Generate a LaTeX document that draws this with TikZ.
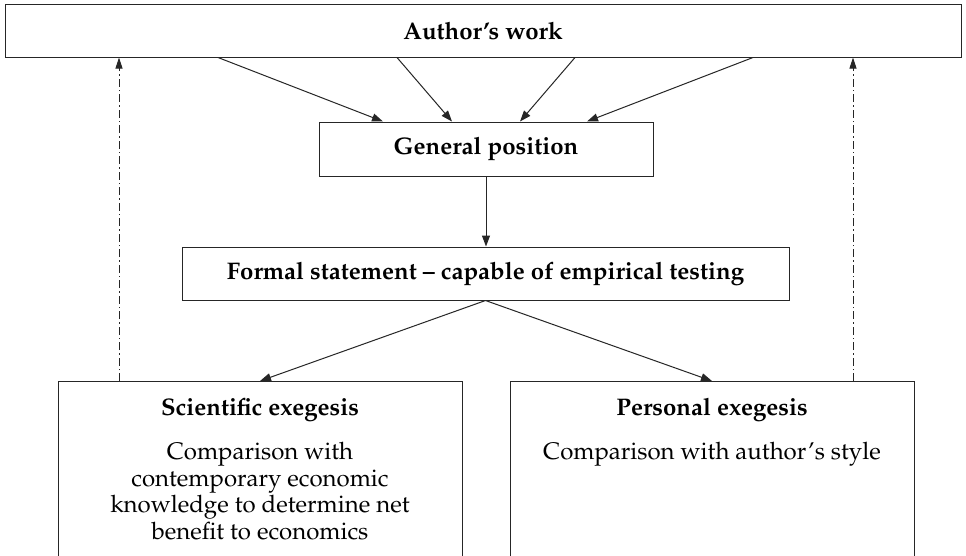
\documentclass[tikz,border=0pt]{standalone}
\usepackage[T1]{fontenc}
\renewcommand{\rmdefault}{ppl}
\usetikzlibrary{arrows.meta}
\begin{document}
\begin{tikzpicture}[x=1pt,y=-1pt,
  box/.style={draw=black!85, line width=1pt, inner sep=0pt, fill=none},
  arr/.style={draw=black!85, line width=1pt, -{Triangle[length=11pt,width=8pt]}},
  dd/.style={draw=black!85, line width=0.9pt, dash pattern=on 8pt off 3pt on 1.5pt off 3pt, -{Triangle[length=11pt,width=7pt]}},
  ttl/.style={font=\fontsize{24}{27}\selectfont\bfseries},
  body/.style={font=\fontsize{24}{26.5}\selectfont, align=center, inner sep=0pt}]
\useasboundingbox (0,0) rectangle (966,555);
\fill[white] (0,0) rectangle (966,555);

\node[box, minimum width=956pt, minimum height=53pt, ttl] (author) at (483,30.5) {Author's work};
\node[box, minimum width=334pt, minimum height=54pt, ttl] (general) at (486,149) {General position};
\node[box, minimum width=607pt, minimum height=53pt, ttl] (formal) at (485.5,273.5) {Formal statement -- capable of empirical testing};
\node[box, minimum width=404pt, minimum height=230pt, anchor=north] (sci) at (260,381) {};
\node[box, minimum width=404pt, minimum height=230pt, anchor=north] (per) at (712,381) {};

\node[ttl, anchor=base, inner sep=0pt] (scit) at (260,415) {Scientific exegesis};
\node[body, anchor=north] (scib) at (260,442) {Comparison with\\contemporary economic\\knowledge to determine net\\benefit to economics};
\node[ttl, anchor=base, inner sep=0pt] (pert) at (712,415) {Personal exegesis};
\node[body, anchor=north] (perb) at (712,442) {Comparison with author's style};

\coordinate (a1) at ([xshift=-265pt]author.south);
\coordinate (a2) at ([xshift=-86pt]author.south);
\coordinate (a3) at ([xshift=92pt]author.south);
\coordinate (a4) at ([xshift=270pt]author.south);
\coordinate (g1) at ([xshift=-103pt]general.north);
\coordinate (g2) at ([xshift=-34pt]general.north);
\coordinate (g3) at ([xshift=34pt]general.north);
\coordinate (g4) at ([xshift=101pt]general.north);
\draw[arr] (a1) -- (g1);
\draw[arr] (a2) -- (g2);
\draw[arr] (a3) -- (g3);
\draw[arr] (a4) -- (g4);

\draw[arr] (general.south) -- (general.south |- formal.north);
\draw[arr] (formal.south) -- (sci.north);
\draw[arr] (formal.south) -- (per.north);

\coordinate (d1) at ([xshift=-141pt]sci.north);
\coordinate (d2) at ([xshift=141pt]per.north);
\draw[dd] (d1) -- (d1 |- author.south);
\draw[dd] (d2) -- (d2 |- author.south);
\end{tikzpicture}
\end{document}
